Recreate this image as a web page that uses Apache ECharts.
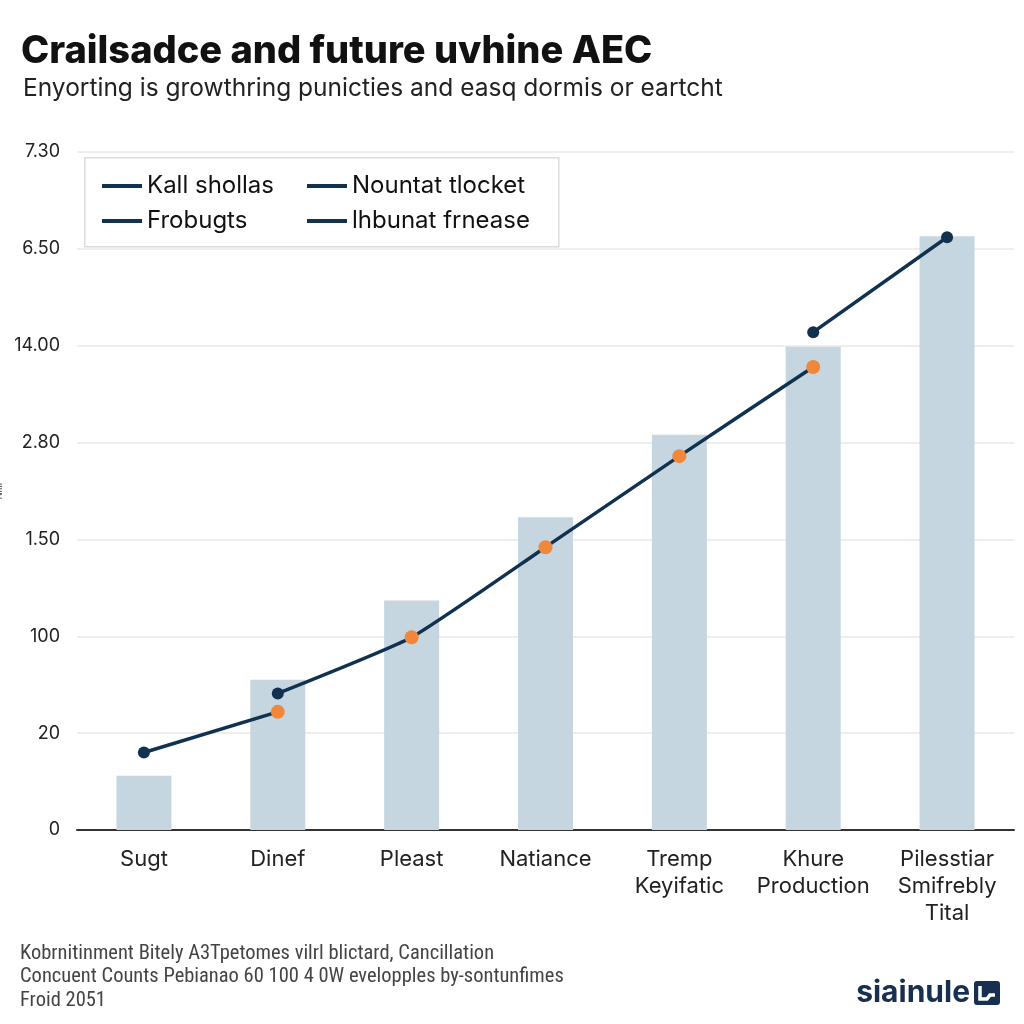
<!DOCTYPE html>
<html>
<head>
<meta charset="utf-8">
<style>html,body{margin:0;padding:0;background:#fff}#c{width:1024px;height:1024px}</style>
<script src="https://cdn.jsdelivr.net/npm/echarts@6/dist/echarts.min.js"></script>
</head>
<body>
<div id="c"></div>
<script>
var categories = ['Sugt', 'Dinef', 'Pleast', 'Natiance', 'Tremp\nKeyifatic', 'Khure\nProduction', 'Pilesstiar\nSmifrebly\nTital'];
var yTickLabels = ['0', '20', '100', '1.50', '2.80', '14.00', '6.50', '7.30'];
var barValues = [0.56, 1.55, 2.37, 3.23, 4.08, 4.99, 6.13];
var lineA = [0.80, 1.22, null, null, null, null, null];
var lineB = [null, 1.41, 1.99, 2.92, 3.86, 4.78, null];
var lineC = [null, null, null, null, null, 5.14, 6.12];
var darkDots = [0.80, 1.41, null, null, null, 5.14, 6.12];
var orangeDots = [null, 1.22, 1.99, 2.92, 3.86, 4.78, null];
var legendLeft = ['Kall shollas', 'Frobugts'];
var legendRight = ['Nountat tlocket', 'lhbunat frnease'];

var NAVY = '#11324f';
var ORANGE = '#f0873a';
var BAR = '#c6d6e0';
var FONT = 'Inter, Roboto, "DejaVu Sans", sans-serif';

var chart = echarts.init(document.getElementById('c'), null, {renderer: 'canvas'});
var legendCommon = {
  orient: 'vertical',
  icon: 'rect',
  itemWidth: 40,
  itemHeight: 4,
  itemGap: 11,
  selectedMode: false,
  textStyle: {fontFamily: FONT, fontSize: 24, color: '#111', lineHeight: 24}
};
chart.setOption({
  backgroundColor: '#ffffff',
  animation: false,
  title: [
    {text: 'Crailsadce and future uvhine AEC', left: 16, top: 28,
     textStyle: {fontFamily: FONT, fontSize: 38, fontWeight: 800, color: '#111', letterSpacing: -0.6}},
    {text: 'Enyorting is growthring punicties and easq dormis or eartcht', left: 18, top: 71,
     textStyle: {fontFamily: FONT, fontSize: 24.5, fontWeight: 'normal', color: '#222'}}
  ],
  legend: [
    Object.assign({left: 97, top: 169, data: legendLeft}, legendCommon),
    Object.assign({left: 302, top: 169, data: legendRight}, legendCommon)
  ],
  grid: {left: 77, right: 10, top: 152, bottom: 194, containLabel: false, outerBoundsMode: 'none'},
  xAxis: {
    type: 'category',
    data: categories,
    axisLine: {lineStyle: {color: '#333', width: 2}},
    axisTick: {show: false},
    axisLabel: {fontFamily: FONT, fontSize: 22, color: '#222', margin: 16, lineHeight: 27, interval: 0, hideOverlap: false}
  },
  yAxis: {
    type: 'value',
    min: 0, max: 7, interval: 1,
    name: 'NIIII',
    nameLocation: 'middle',
    nameRotate: 90,
    nameGap: 70,
    nameTextStyle: {fontFamily: FONT, fontSize: 9, color: '#333'},
    axisLine: {show: false},
    axisTick: {show: false},
    axisLabel: {fontFamily: FONT, fontSize: 18, color: '#222', margin: 17,
      formatter: function (v) { return yTickLabels[Math.round(v)]; }},
    splitLine: {lineStyle: {color: '#e8e8e8', width: 1.5}}
  },
  series: [
    {type: 'bar', name: 'bars', data: barValues, barWidth: 55, itemStyle: {color: BAR}, z: 1},
    {type: 'line', name: 'Kall shollas', data: lineA, showSymbol: false, connectNulls: false,
     lineStyle: {color: NAVY, width: 3.5}, itemStyle: {color: NAVY}, z: 3},
    {type: 'line', name: 'Nountat tlocket', data: lineB, showSymbol: false, smooth: 0.15,
     lineStyle: {color: NAVY, width: 3.5}, itemStyle: {color: NAVY}, z: 3},
    {type: 'line', name: 'Frobugts', data: lineC, showSymbol: false,
     lineStyle: {color: NAVY, width: 3.5}, itemStyle: {color: NAVY}, z: 3},
    {type: 'scatter', name: 'lhbunat frnease', data: darkDots, symbolSize: 12, itemStyle: {color: NAVY, opacity: 1}, z: 4},
    {type: 'scatter', name: 'orange', data: orangeDots, symbolSize: 14, itemStyle: {color: ORANGE, opacity: 1}, z: 5}
  ],
  graphic: [
    {type: 'rect', left: 84, top: 157, shape: {width: 474, height: 89},
     style: {fill: 'rgba(0,0,0,0)', stroke: '#dcdcdc', lineWidth: 1.5}, z: 0},
    {type: 'text', left: 20, top: 942,
     style: {text: 'Kobrnitinment Bitely A3Tpetomes vilrl blictard, Cancillation\nConcuent Counts Pebianao 60 100 4 0W evelopples by-sontunfimes\nFroid 2051',
       font: '20.5px "Liberation Sans Narrow", "Roboto Condensed", Roboto, sans-serif', fill: '#444', lineHeight: 23.5}},
    {type: 'text', right: 54, top: 978,
     style: {text: 'siainule', font: 'bold 30px Inter, Roboto, sans-serif', fill: '#17304f', letterSpacing: -1.5}},
    {type: 'group', right: 24, top: 981, children: [
      {type: 'rect', shape: {x: 0, y: 0, width: 26, height: 24, r: 3}, style: {fill: '#17304f'}},
      {type: 'polyline', shape: {points: [[6, 5], [6, 18], [13, 18], [16, 14], [21, 14]]},
       style: {stroke: '#fff', lineWidth: 3.5, fill: null}}
    ]}
  ]
});
</script>
</body>
</html>
